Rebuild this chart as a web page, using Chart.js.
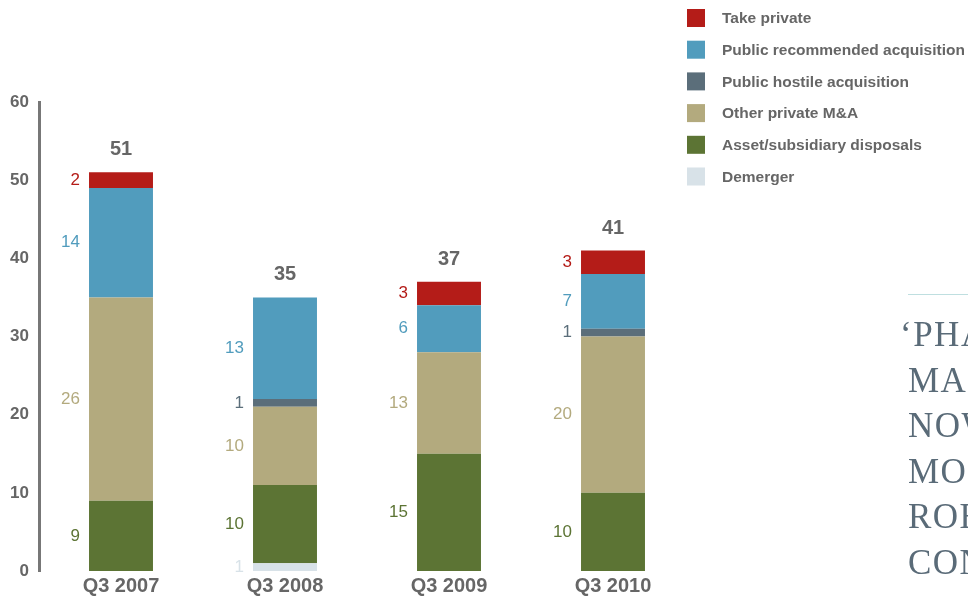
<!DOCTYPE html>
<html>
<head>
<meta charset="utf-8">
<script src="https://cdn.jsdelivr.net/npm/chart.js@4.4.1/dist/chart.umd.min.js"></script>
<style>
  html, body { margin: 0; padding: 0; background: #fff; }
  #wrap { position: relative; width: 968px; height: 597px; overflow: hidden; }
  #myBarChart { position: absolute; left: 0; top: 0; }
  #rule { position: absolute; left: 908px; top: 294px; width: 80px; height: 1px; background: #bfdfe0; }
  #quote { position: absolute; left: 908px; top: 312px; font-family: "Liberation Serif", serif;
           font-size: 35px; line-height: 45.5px; letter-spacing: 1.5px; color: #5a6b78; white-space: nowrap; }
  #quote .first { text-indent: -8px; }
</style>
</head>
<body>
<div id="wrap">
  <canvas id="myBarChart" width="968" height="597"></canvas>
  <div id="rule"></div>
  <div id="quote">
    <div class="first">‘PHARMA</div>
    <div>MAJORS</div>
    <div>NOW</div>
    <div>MORE</div>
    <div>ROBUST</div>
    <div>CONFIDENT</div>
  </div>
</div>
<script>
var categories = ['Q3 2007', 'Q3 2008', 'Q3 2009', 'Q3 2010'];
var demerger = [0, 1, 0, 0];
var assetDisposals = [9, 10, 15, 10];
var otherPrivate = [26, 10, 13, 20];
var publicHostile = [0, 1, 0, 1];
var publicRecommended = [14, 13, 6, 7];
var takePrivate = [2, 0, 3, 3];
var yTicks = [0, 10, 20, 30, 40, 50, 60];

var labelFont = '"Liberation Sans", Arial, sans-serif';

// segment values to the left of each bar, totals above
var barLabels = {
  id: 'barLabels',
  afterDatasetsDraw: function(chart) {
    var ctx = chart.ctx;
    ctx.save();
    ctx.textAlign = 'right';
    ctx.textBaseline = 'middle';
    ctx.font = '17px ' + labelFont;
    chart.data.datasets.forEach(function(ds, i) {
      var meta = chart.getDatasetMeta(i);
      meta.data.forEach(function(bar, j) {
        if (!ds.data[j]) return;
        ctx.fillStyle = ds.backgroundColor;
        ctx.fillText(ds.data[j], bar.x - bar.width / 2 - 9, (bar.y + bar.base) / 2);
      });
    });
    ctx.textAlign = 'center';
    ctx.textBaseline = 'alphabetic';
    ctx.font = 'bold 20px ' + labelFont;
    ctx.fillStyle = '#666';
    var y = chart.scales.y;
    categories.forEach(function(c, j) {
      var total = 0;
      chart.data.datasets.forEach(function(ds) { total += ds.data[j]; });
      var x = chart.getDatasetMeta(0).data[j].x;
      ctx.fillText(total, x, y.getPixelForValue(total) - 17);
    });
    ctx.restore();
  }
};

// legend in the top right corner
var sideLegend = {
  id: 'sideLegend',
  afterDraw: function(chart) {
    var ctx = chart.ctx;
    ctx.save();
    ctx.font = 'bold 15.5px ' + labelFont;
    ctx.textBaseline = 'middle';
    ctx.textAlign = 'left';
    var ds = chart.data.datasets.slice().reverse();
    ds.forEach(function(d, k) {
      var cy = 18 + k * 31.7;
      ctx.fillStyle = d.backgroundColor;
      ctx.fillRect(687, cy - 9, 18, 18);
      ctx.fillStyle = '#666';
      ctx.fillText(d.label, 722, cy + 1);
    });
    ctx.restore();
  }
};

var ctx = document.getElementById('myBarChart');
var myBarChart = new Chart(ctx, {
  type: 'bar',
  data: {
    labels: categories,
    datasets: [
      { label: 'Demerger', data: demerger, backgroundColor: '#d8e2e8' },
      { label: 'Asset/subsidiary disposals', data: assetDisposals, backgroundColor: '#5c7434' },
      { label: 'Other private M&A', data: otherPrivate, backgroundColor: '#b3aa7e' },
      { label: 'Public hostile acquisition', data: publicHostile, backgroundColor: '#5b6e7a' },
      { label: 'Public recommended acquisition', data: publicRecommended, backgroundColor: '#519cbd' },
      { label: 'Take private', data: takePrivate, backgroundColor: '#b41c18' }
    ]
  },
  options: {
    responsive: false,
    animation: false,
    barPercentage: 0.78,
    categoryPercentage: 0.5,
    layout: { padding: { top: 102, right: 273, bottom: 0, left: 0 } },
    plugins: {
      legend: { display: false },
      tooltip: { enabled: false }
    },
    scales: {
      x: {
        stacked: true,
        grid: { display: false, drawTicks: false },
        border: { display: false },
        ticks: { color: '#666', font: { family: labelFont, size: 20, weight: 'bold' }, padding: 3 },
        afterFit: function(scale) { scale.height = 26; }
      },
      y: {
        stacked: true,
        min: 0,
        max: 60,
        afterBuildTicks: function(scale) { scale.ticks = yTicks.map(function(v) { return { value: v }; }); },
        grid: { display: false, drawTicks: false },
        border: { display: true, color: '#777', width: 3 },
        ticks: { color: '#666', font: { family: labelFont, size: 17, weight: 'bold' }, padding: 10 },
        afterFit: function(scale) { scale.width = 39; }
      }
    }
  },
  plugins: [barLabels, sideLegend]
});
</script>
</body>
</html>
